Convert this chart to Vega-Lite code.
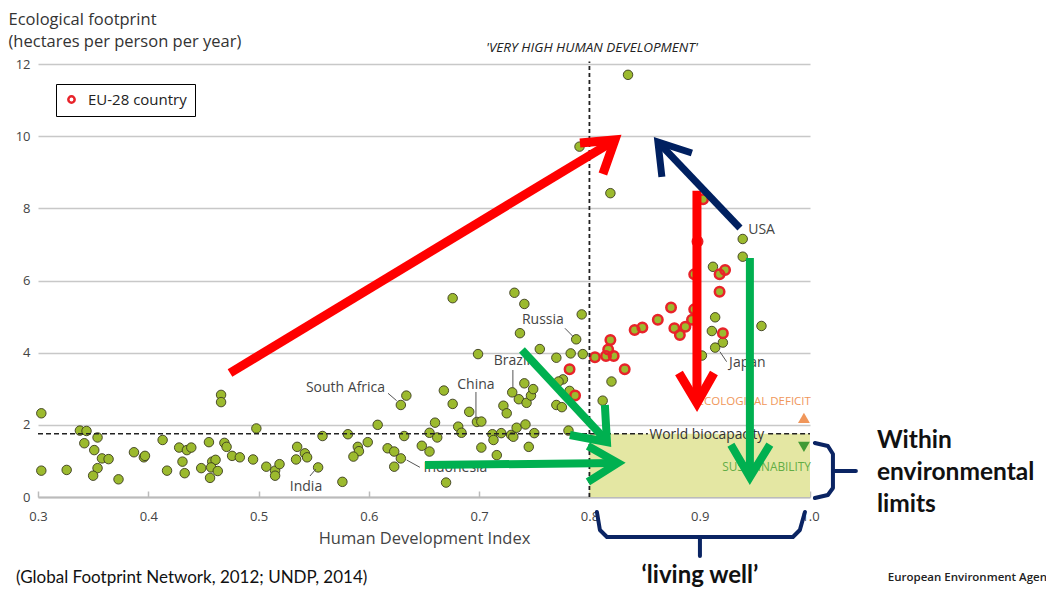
{
  "$schema": "https://vega.github.io/schema/vega-lite/v6.json",
  "width": 772,
  "height": 433,
  "autosize": {"type": "none"},
  "padding": {"left": 38, "top": 64, "right": 236, "bottom": 93},
  "background": "white",
  "config": {"font": "Open Sans", "view": {"stroke": null}},
  "datasets": {
    "countries": [
      {"x":0.303,"y":2.32,"group":"Other"},{"x":0.338,"y":1.84,"group":"Other"},{"x":0.344,"y":1.83,"group":"Other"},{"x":0.354,"y":1.65,"group":"Other"},{"x":0.342,"y":1.49,"group":"Other"},{"x":0.351,"y":1.30,"group":"Other"},{"x":0.358,"y":1.07,"group":"Other"},{"x":0.364,"y":1.05,"group":"Other"},{"x":0.354,"y":0.80,"group":"Other"},{"x":0.350,"y":0.59,"group":"Other"},{"x":0.303,"y":0.73,"group":"Other"},{"x":0.326,"y":0.75,"group":"Other"},{"x":0.373,"y":0.49,"group":"Other"},{"x":0.387,"y":1.24,"group":"Other"},{"x":0.396,"y":1.10,"group":"Other"},{"x":0.397,"y":1.14,"group":"Other"},{"x":0.413,"y":1.58,"group":"Other"},{"x":0.417,"y":0.73,"group":"Other"},{"x":0.428,"y":1.37,"group":"Other"},{"x":0.435,"y":1.30,"group":"Other"},{"x":0.439,"y":1.37,"group":"Other"},{"x":0.431,"y":0.98,"group":"Other"},{"x":0.433,"y":0.66,"group":"Other"},{"x":0.448,"y":0.80,"group":"Other"},{"x":0.455,"y":1.52,"group":"Other"},{"x":0.456,"y":0.53,"group":"Other"},{"x":0.458,"y":0.98,"group":"Other"},{"x":0.461,"y":1.03,"group":"Other"},{"x":0.457,"y":0.82,"group":"Other"},{"x":0.463,"y":0.72,"group":"Other"},{"x":0.469,"y":1.50,"group":"Other"},{"x":0.471,"y":1.39,"group":"Other"},{"x":0.476,"y":1.14,"group":"Other"},{"x":0.483,"y":1.10,"group":"Other"},{"x":0.495,"y":1.04,"group":"Other"},{"x":0.498,"y":1.90,"group":"Other"},{"x":0.466,"y":2.83,"group":"Other"},{"x":0.466,"y":2.63,"group":"Other"},{"x":0.507,"y":0.84,"group":"Other"},{"x":0.515,"y":0.73,"group":"Other"},{"x":0.515,"y":0.59,"group":"Other"},{"x":0.519,"y":0.91,"group":"Other"},{"x":0.535,"y":1.39,"group":"Other"},{"x":0.534,"y":1.04,"group":"Other"},{"x":0.542,"y":1.21,"group":"Other"},{"x":0.544,"y":1.10,"group":"Other"},
      {"x":0.554,"y":0.82,"group":"Other"},{"x":0.558,"y":1.69,"group":"Other"},{"x":0.581,"y":1.74,"group":"Other"},{"x":0.576,"y":0.42,"group":"Other"},{"x":0.608,"y":2.00,"group":"Other"},{"x":0.599,"y":1.52,"group":"Other"},{"x":0.590,"y":1.39,"group":"Other"},{"x":0.591,"y":1.27,"group":"Other"},{"x":0.586,"y":1.12,"group":"Other"},{"x":0.617,"y":1.35,"group":"Other"},{"x":0.623,"y":1.26,"group":"Other"},{"x":0.629,"y":1.07,"group":"Other"},{"x":0.623,"y":0.84,"group":"Other"},{"x":0.632,"y":1.69,"group":"Other"},{"x":0.629,"y":2.55,"group":"Other"},{"x":0.634,"y":2.81,"group":"Other"},{"x":0.648,"y":1.42,"group":"Other"},{"x":0.655,"y":1.26,"group":"Other"},{"x":0.655,"y":1.78,"group":"Other"},{"x":0.662,"y":1.65,"group":"Other"},{"x":0.660,"y":2.06,"group":"Other"},{"x":0.668,"y":2.95,"group":"Other"},{"x":0.676,"y":2.58,"group":"Other"},{"x":0.670,"y":0.40,"group":"Other"},{"x":0.681,"y":1.95,"group":"Other"},{"x":0.684,"y":1.78,"group":"Other"},{"x":0.691,"y":2.36,"group":"Other"},{"x":0.698,"y":2.08,"group":"Other"},{"x":0.702,"y":2.09,"group":"Other"},{"x":0.702,"y":1.37,"group":"Other"},{"x":0.712,"y":1.74,"group":"Other"},{"x":0.713,"y":1.58,"group":"Other"},{"x":0.720,"y":1.77,"group":"Other"},{"x":0.716,"y":1.16,"group":"Other"},{"x":0.722,"y":2.53,"group":"Other"},{"x":0.725,"y":2.32,"group":"Other"},{"x":0.729,"y":1.72,"group":"Other"},{"x":0.731,"y":1.67,"group":"Other"},{"x":0.734,"y":1.92,"group":"Other"},{"x":0.742,"y":2.01,"group":"Other"},{"x":0.745,"y":1.39,"group":"Other"},{"x":0.750,"y":1.77,"group":"Other"},{"x":0.730,"y":2.90,"group":"Other"},{"x":0.736,"y":2.71,"group":"Other"},{"x":0.743,"y":2.61,"group":"Other"},{"x":0.747,"y":2.81,"group":"Other"},{"x":0.749,"y":2.99,"group":"Other"},{"x":0.741,"y":3.15,"group":"Other"},{"x":0.770,"y":2.55,"group":"Other"},{"x":0.775,"y":2.49,"group":"Other"},{"x":0.781,"y":1.84,"group":"Other"},{"x":0.782,"y":2.94,"group":"Other"},{"x":0.787,"y":2.81,"group":"EU-28 country"},
      {"x":0.676,"y":5.51,"group":"Other"},{"x":0.732,"y":5.66,"group":"Other"},{"x":0.741,"y":5.35,"group":"Other"},{"x":0.793,"y":5.06,"group":"Other"},{"x":0.737,"y":4.54,"group":"Other"},{"x":0.788,"y":4.37,"group":"Other"},{"x":0.755,"y":4.10,"group":"Other"},{"x":0.699,"y":3.96,"group":"Other"},{"x":0.770,"y":3.86,"group":"Other"},{"x":0.783,"y":3.98,"group":"Other"},{"x":0.794,"y":3.96,"group":"Other"},{"x":0.805,"y":3.87,"group":"EU-28 country"},{"x":0.782,"y":3.54,"group":"EU-28 country"},{"x":0.776,"y":3.26,"group":"Other"},{"x":0.772,"y":3.20,"group":"Other"},
      {"x":0.939,"y":7.15,"group":"Other"},{"x":0.939,"y":6.66,"group":"Other"},{"x":0.898,"y":7.08,"group":"EU-28 country"},{"x":0.912,"y":6.38,"group":"Other"},{"x":0.918,"y":6.17,"group":"EU-28 country"},{"x":0.923,"y":6.29,"group":"EU-28 country"},{"x":0.895,"y":6.17,"group":"EU-28 country"},{"x":0.918,"y":5.69,"group":"EU-28 country"},{"x":0.874,"y":5.25,"group":"EU-28 country"},{"x":0.895,"y":5.20,"group":"EU-28 country"},{"x":0.862,"y":4.91,"group":"EU-28 country"},{"x":0.841,"y":4.63,"group":"EU-28 country"},{"x":0.848,"y":4.70,"group":"EU-28 country"},{"x":0.877,"y":4.68,"group":"EU-28 country"},{"x":0.882,"y":4.49,"group":"EU-28 country"},{"x":0.887,"y":4.72,"group":"EU-28 country"},{"x":0.893,"y":4.91,"group":"EU-28 country"},{"x":0.914,"y":4.98,"group":"Other"},{"x":0.911,"y":4.60,"group":"Other"},{"x":0.921,"y":4.54,"group":"EU-28 country"},{"x":0.921,"y":4.28,"group":"Other"},{"x":0.914,"y":4.14,"group":"Other"},{"x":0.902,"y":3.92,"group":"Other"},{"x":0.956,"y":4.74,"group":"Other"},{"x":0.819,"y":4.35,"group":"EU-28 country"},{"x":0.817,"y":4.09,"group":"EU-28 country"},{"x":0.815,"y":3.91,"group":"EU-28 country"},{"x":0.822,"y":3.91,"group":"EU-28 country"},{"x":0.832,"y":3.54,"group":"EU-28 country"},{"x":0.820,"y":3.20,"group":"Other"},{"x":0.812,"y":2.67,"group":"Other"},{"x":0.819,"y":8.42,"group":"Other"},{"x":0.903,"y":8.25,"group":"EU-28 country"},{"x":0.835,"y":11.70,"group":"Other"},{"x":0.791,"y":9.71,"group":"Other"}
    ],
    "zones": [{"x":0.8,"x2":1.0,"y":0,"y2":1.75}],
    "refs": [
      {"x":0.3,"x2":0.853,"y":1.75,"y2":1.75,"kind":"bio"},
      {"x":0.962,"x2":1.0,"y":1.75,"y2":1.75,"kind":"bio"},
      {"x":0.8,"x2":0.8,"y":0,"y2":12.07,"kind":"vhhd"}
    ],
    "markers": [
      {"x":0.9945,"y":2.19,"kind":"up"},
      {"x":0.9945,"y":1.39,"kind":"down"}
    ],
    "paths": [
      {"id":"r1s","kind":"red","ord":0,"x":0.4741,"y":3.437},{"id":"r1s","kind":"red","ord":1,"x":0.8204,"y":9.839},
      {"id":"r1h","kind":"red","ord":0,"x":0.7914,"y":9.811},{"id":"r1h","kind":"red","ord":1,"x":0.8231,"y":9.895},{"id":"r1h","kind":"red","ord":2,"x":0.8122,"y":8.952},
      {"id":"r2s","kind":"red","ord":0,"x":0.8975,"y":8.49},{"id":"r2s","kind":"red","ord":1,"x":0.8975,"y":2.69},
      {"id":"r2h","kind":"red","ord":0,"x":0.8812,"y":3.437},{"id":"r2h","kind":"red","ord":1,"x":0.8975,"y":2.605},{"id":"r2h","kind":"red","ord":2,"x":0.9129,"y":3.437},
      {"id":"n1s","kind":"navy","ord":0,"x":0.9365,"y":7.456},{"id":"n1s","kind":"navy","ord":1,"x":0.8657,"y":9.728},
      {"id":"n1h","kind":"navy","ord":0,"x":0.8657,"y":8.869},{"id":"n1h","kind":"navy","ord":1,"x":0.8621,"y":9.839},{"id":"n1h","kind":"navy","ord":2,"x":0.8929,"y":9.534},
      {"id":"g1s","kind":"green","ord":0,"x":0.7388,"y":4.074},{"id":"g1s","kind":"green","ord":1,"x":0.8131,"y":1.635},
      {"id":"g1h","kind":"green","ord":0,"x":0.814,"y":2.55},{"id":"g1h","kind":"green","ord":1,"x":0.8159,"y":1.524},{"id":"g1h","kind":"green","ord":2,"x":0.7823,"y":1.718},
      {"id":"g2s","kind":"green","ord":0,"x":0.6509,"y":0.887},{"id":"g2s","kind":"green","ord":1,"x":0.8231,"y":0.942},
      {"id":"g2h","kind":"green","ord":0,"x":0.7986,"y":1.413},{"id":"g2h","kind":"green","ord":1,"x":0.8258,"y":0.942},{"id":"g2h","kind":"green","ord":2,"x":0.7986,"y":0.416},
      {"id":"g3s","kind":"green","ord":0,"x":0.9455,"y":6.624},{"id":"g3s","kind":"green","ord":1,"x":0.9455,"y":0.70},
      {"id":"g3h","kind":"green","ord":0,"x":0.9283,"y":1.45},{"id":"g3h","kind":"green","ord":1,"x":0.9455,"y":0.55},{"id":"g3h","kind":"green","ord":2,"x":0.9636,"y":1.45},
      {"id":"b1","kind":"brace","ord":0,"x":1.0044,"y":1.497},{"id":"b1","kind":"brace","ord":1,"x":1.0162,"y":1.414},{"id":"b1","kind":"brace","ord":2,"x":1.0208,"y":1.192},{"id":"b1","kind":"brace","ord":3,"x":1.0208,"y":0.249},{"id":"b1","kind":"brace","ord":4,"x":1.0162,"y":0.055},{"id":"b1","kind":"brace","ord":5,"x":1.0044,"y":-0.028},
      {"id":"b1s","kind":"brace","ord":0,"x":1.0208,"y":0.721},{"id":"b1s","kind":"brace","ord":1,"x":1.0416,"y":0.721},
      {"id":"b2","kind":"brace","ord":0,"x":0.8068,"y":-0.416},{"id":"b2","kind":"brace","ord":1,"x":0.8095,"y":-0.915},{"id":"b2","kind":"brace","ord":2,"x":0.8159,"y":-1.109},{"id":"b2","kind":"brace","ord":3,"x":0.9845,"y":-1.109},{"id":"b2","kind":"brace","ord":4,"x":0.9908,"y":-0.915},{"id":"b2","kind":"brace","ord":5,"x":0.9954,"y":-0.416},
      {"id":"b2s","kind":"brace","ord":0,"x":0.9002,"y":-1.109},{"id":"b2s","kind":"brace","ord":1,"x":0.9002,"y":-1.635},
      {"id":"l1","kind":"leader","ord":0,"x":0.6174,"y":2.874},{"id":"l1","kind":"leader","ord":1,"x":0.6252,"y":2.669},
      {"id":"l2","kind":"leader","ord":0,"x":0.6971,"y":2.91},{"id":"l2","kind":"leader","ord":1,"x":0.6971,"y":2.134},
      {"id":"l3","kind":"leader","ord":0,"x":0.7306,"y":3.52},{"id":"l3","kind":"leader","ord":1,"x":0.7306,"y":3.02},
      {"id":"l4","kind":"leader","ord":0,"x":0.7778,"y":4.676},{"id":"l4","kind":"leader","ord":1,"x":0.7853,"y":4.443},
      {"id":"l5","kind":"leader","ord":0,"x":0.9183,"y":4.027},{"id":"l5","kind":"leader","ord":1,"x":0.9244,"y":3.75},
      {"id":"l6","kind":"leader","ord":0,"x":0.5466,"y":0.582},{"id":"l6","kind":"leader","ord":1,"x":0.552,"y":0.776},
      {"id":"l7","kind":"leader","ord":0,"x":0.6343,"y":1.025},{"id":"l7","kind":"leader","ord":1,"x":0.6463,"y":0.823}
    ],
    "texts": [
      {"label":"USA","x":0.9561,"y":7.40,"style":"country"},
      {"label":"Japan","x":0.9432,"y":3.71,"style":"country"},
      {"label":"Russia","x":0.7578,"y":4.91,"style":"country"},
      {"label":"Brazil","x":0.7297,"y":3.77,"style":"country"},
      {"label":"China","x":0.6971,"y":3.10,"style":"country"},
      {"label":"South Africa","x":0.5788,"y":3.01,"style":"country"},
      {"label":"India","x":0.543,"y":0.28,"style":"country"},
      {"label":"Indonesia","x":0.6785,"y":0.80,"style":"country"},
      {"label":"'VERY HIGH HUMAN DEVELOPMENT'","x":0.8023,"y":12.44,"style":"vhhd"},
      {"label":"ECOLOGICAL DEFICIT","x":1.0008,"y":2.63,"style":"deficit"},
      {"label":"SUSTAINABILITY","x":1.0008,"y":0.83,"style":"sustain"},
      {"label":"World biocapacity","x":0.9065,"y":1.72,"style":"bio"},
      {"label":"Within","x":1.0607,"y":1.55,"style":"callout"},
      {"label":"environmental","x":1.0607,"y":0.665,"style":"callout"},
      {"label":"limits","x":1.0607,"y":-0.222,"style":"callout"},
      {"label":"‘living well’","x":0.9002,"y":-2.2,"style":"living"},
      {"label":"(Global Footprint Network, 2012; UNDP, 2014)","x":0.2801,"y":-2.245,"style":"source"},
      {"label":"European Environment Agency","x":1.0706,"y":-2.245,"style":"eea"}
    ]
  },
  "encoding": {
    "x": {
      "field": "x", "type": "quantitative",
      "scale": {"domain": [0.3, 1.0], "nice": false, "zero": false},
      "axis": {
        "values": [0.3, 0.4, 0.5, 0.6, 0.7, 0.8, 0.9, 1.0], "format": ".1f", "grid": false,
        "domainColor": "#bbbbbb", "domainWidth": 2, "tickColor": "#bbbbbb", "tickWidth": 1.5, "tickSize": -6,
        "labelPadding": 19, "labelFontSize": 13, "labelColor": "#444444", "labelFont": "Open Sans", "labelFlush": false, "labelOverlap": false,
        "title": "Human Development Index", "titleFont": "Open Sans", "titleFontSize": 16.5, "titleFontWeight": "normal", "titleColor": "#444444", "titlePadding": 7
      }
    },
    "y": {
      "field": "y", "type": "quantitative",
      "scale": {"domain": [0, 12], "nice": false, "zero": false},
      "axis": {
        "values": [0, 2, 4, 6, 8, 10, 12], "domain": false, "ticks": false, "grid": true, "gridColor": "#c8c8c8", "gridWidth": 1.5,
        "labelFont": "Open Sans", "labelFontSize": 13, "labelColor": "#444444", "labelPadding": 8,
        "title": ["Ecological footprint", "(hectares per person per year)"], "titleAngle": 0, "titleAlign": "left", "titleBaseline": "top",
        "titleX": -30, "titleY": -53, "titleFont": "Open Sans", "titleFontSize": 16.5, "titleFontWeight": "normal", "titleColor": "#333333", "titleLineHeight": 22
      }
    }
  },
  "layer": [
    {
      "data": {"name": "zones"},
      "mark": {"type": "rect", "fill": "#e4e7a3"},
      "encoding": {"x2": {"field": "x2"}, "y2": {"field": "y2"}}
    },
    {
      "data": {"name": "countries"},
      "transform": [{"filter": "datum.group === 'Other'"}],
      "mark": {"type": "point", "shape": "circle", "filled": true, "fill": "#9cba2e", "stroke": "#3b3b1f", "size": 90, "strokeWidth": 0.9, "opacity": 1}
    },
    {
      "data": {"name": "countries"},
      "transform": [{"filter": "datum.group === 'EU-28 country'"}],
      "mark": {"type": "point", "shape": "circle", "filled": true, "fill": "#9cba2e", "strokeWidth": 0, "size": 90, "opacity": 1}
    },
    {
      "data": {"name": "countries"},
      "transform": [{"filter": "datum.group === 'EU-28 country'"}],
      "mark": {"type": "point", "shape": "circle", "filled": false, "size": 90, "strokeWidth": 2.5, "opacity": 1},
      "encoding": {
        "stroke": {
          "field": "group", "type": "nominal",
          "scale": {"domain": ["EU-28 country"], "range": ["#e8232a"]},
          "legend": {
            "title": null, "orient": "none", "legendX": 18, "legendY": 20, "direction": "vertical",
            "fillColor": "white", "strokeColor": "black", "padding": 8, "cornerRadius": 0,
            "symbolType": "circle", "symbolSize": 40, "symbolStrokeWidth": 2.5, "symbolFillColor": "white",
            "labelFontSize": 15, "labelFont": "Open Sans", "labelColor": "#222222", "labelOffset": 9
          }
        }
      }
    },
    {
      "data": {"name": "refs"},
      "transform": [{"filter": "datum.kind === 'bio'"}],
      "mark": {"type": "rule", "color": "#222222", "strokeWidth": 1.5, "strokeDash": [5, 3]},
      "encoding": {"x2": {"field": "x2"}, "y2": {"field": "y2"}}
    },
    {
      "data": {"name": "refs"},
      "transform": [{"filter": "datum.kind === 'vhhd'"}],
      "mark": {"type": "rule", "color": "#222222", "strokeWidth": 1.8, "strokeDash": [4, 3]},
      "encoding": {"x2": {"field": "x2"}, "y2": {"field": "y2"}}
    },
    {
      "data": {"name": "paths"},
      "transform": [{"filter": "datum.kind === 'leader'"}],
      "mark": {"type": "line", "color": "#555555", "strokeWidth": 1},
      "encoding": {"detail": {"field": "id"}, "order": {"field": "ord", "type": "quantitative"}}
    },
    {
      "data": {"name": "texts"},
      "transform": [{"filter": "datum.style === 'country'"}],
      "mark": {"type": "text", "font": "Open Sans", "fontSize": 14, "color": "#444444", "align": "center", "baseline": "middle"},
      "encoding": {"text": {"field": "label"}}
    },
    {
      "data": {"name": "texts"},
      "transform": [{"filter": "datum.style === 'vhhd'"}],
      "mark": {"type": "text", "font": "Open Sans", "fontSize": 13.5, "fontStyle": "italic", "color": "#222222", "align": "center", "baseline": "middle"},
      "encoding": {"text": {"field": "label"}}
    },
    {
      "data": {"name": "texts"},
      "transform": [{"filter": "datum.style === 'deficit'"}],
      "mark": {"type": "text", "font": "Open Sans", "fontSize": 11.5, "color": "#f0965a", "align": "right", "baseline": "middle"},
      "encoding": {"text": {"field": "label"}}
    },
    {
      "data": {"name": "texts"},
      "transform": [{"filter": "datum.style === 'sustain'"}],
      "mark": {"type": "text", "font": "Open Sans", "fontSize": 11.8, "color": "#62ad45", "align": "right", "baseline": "middle"},
      "encoding": {"text": {"field": "label"}}
    },
    {
      "data": {"name": "texts"},
      "transform": [{"filter": "datum.style === 'bio'"}],
      "mark": {"type": "text", "font": "Open Sans", "fontSize": 13.8, "color": "#333333", "align": "center", "baseline": "middle"},
      "encoding": {"text": {"field": "label"}}
    },
    {
      "data": {"name": "markers"},
      "transform": [{"filter": "datum.kind === 'up'"}],
      "mark": {"type": "point", "shape": "triangle-up", "filled": true, "fill": "#f0965a", "size": 140, "opacity": 1}
    },
    {
      "data": {"name": "markers"},
      "transform": [{"filter": "datum.kind === 'down'"}],
      "mark": {"type": "point", "shape": "triangle-down", "filled": true, "fill": "#3f9a35", "size": 140, "opacity": 1}
    },
    {
      "data": {"name": "paths"},
      "transform": [{"filter": "datum.kind === 'red'"}],
      "mark": {"type": "line", "color": "#ff0000", "strokeWidth": 9, "strokeJoin": "miter", "strokeCap": "butt"},
      "encoding": {"detail": {"field": "id"}, "order": {"field": "ord", "type": "quantitative"}}
    },
    {
      "data": {"name": "paths"},
      "transform": [{"filter": "datum.kind === 'green'"}],
      "mark": {"type": "line", "color": "#00b050", "strokeWidth": 8, "strokeJoin": "miter", "strokeCap": "butt"},
      "encoding": {"detail": {"field": "id"}, "order": {"field": "ord", "type": "quantitative"}}
    },
    {
      "data": {"name": "paths"},
      "transform": [{"filter": "datum.kind === 'navy'"}],
      "mark": {"type": "line", "color": "#002060", "strokeWidth": 7, "strokeJoin": "miter", "strokeCap": "butt"},
      "encoding": {"detail": {"field": "id"}, "order": {"field": "ord", "type": "quantitative"}}
    },
    {
      "data": {"name": "paths"},
      "transform": [{"filter": "datum.kind === 'brace'"}],
      "mark": {"type": "line", "color": "#0a2463", "strokeWidth": 4, "strokeJoin": "round", "strokeCap": "round"},
      "encoding": {"detail": {"field": "id"}, "order": {"field": "ord", "type": "quantitative"}}
    },
    {
      "data": {"name": "texts"},
      "transform": [{"filter": "datum.style === 'callout'"}],
      "mark": {"type": "text", "font": "Lato", "fontSize": 24.5, "fontWeight": "bold", "color": "#111111", "align": "left", "baseline": "middle"},
      "encoding": {"text": {"field": "label"}}
    },
    {
      "data": {"name": "texts"},
      "transform": [{"filter": "datum.style === 'living'"}],
      "mark": {"type": "text", "font": "Lato", "fontSize": 24, "fontWeight": "bold", "color": "#111111", "align": "center", "baseline": "middle"},
      "encoding": {"text": {"field": "label"}}
    },
    {
      "data": {"name": "texts"},
      "transform": [{"filter": "datum.style === 'source'"}],
      "mark": {"type": "text", "font": "Lato", "fontSize": 17, "color": "#111111", "align": "left", "baseline": "middle"},
      "encoding": {"text": {"field": "label"}}
    },
    {
      "data": {"name": "texts"},
      "transform": [{"filter": "datum.style === 'eea'"}],
      "mark": {"type": "text", "font": "Open Sans", "fontSize": 11.5, "fontWeight": 600, "color": "#222222", "align": "left", "baseline": "middle"},
      "encoding": {"text": {"field": "label"}}
    }
  ]
}
